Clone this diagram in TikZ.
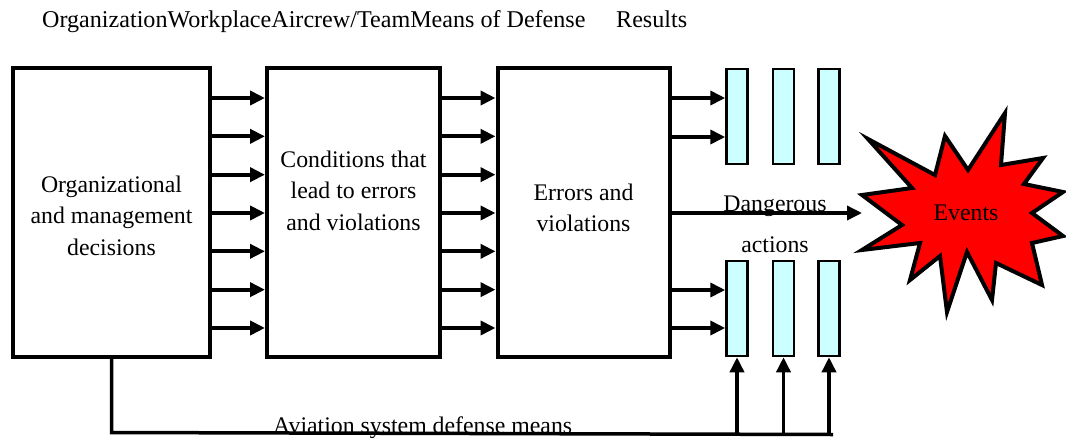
\documentclass[tikz,border=0pt]{standalone}
\usepackage{fontspec}
\setmainfont{Liberation Serif}
\usetikzlibrary{arrows.meta}
\definecolor{guardcyan}{HTML}{CCFFFF}
\begin{document}
\begin{tikzpicture}[x=1pt,y=-1pt,
  blk/.style={draw=black, line width=4pt, inner sep=0pt, minimum height=289pt},
  guard/.style={draw=black, fill=guardcyan, line width=2.5pt, inner sep=0pt,
                minimum width=21pt, minimum height=95pt},
  flow/.style={line width=4pt, -{Triangle[length=15pt,width=14pt]}},
  feed/.style={line width=3.5pt, -{Triangle[length=15pt,width=14pt]}},
  txt/.style={font=\fontsize{23.8}{31.5}\selectfont, align=center, inner sep=0pt},
  hdr/.style={font=\fontsize{24.1}{28}\selectfont, inner sep=0pt, anchor=base west}]
\useasboundingbox (0,0) rectangle (1066,437);

% column headings
\node[hdr] (h1) at (42,27.5) {OrganizationWorkplaceAircrew/TeamMeans of Defense};
\node[hdr] (h2) at (616,27.5) {Results};

% the three main blocks
\node[blk, minimum width=197pt] (org)  at (111.5,212.5) {};
\node[blk, minimum width=173pt] (cond) at (353.5,212.5) {};
\node[blk, minimum width=172pt] (err)  at (583.5,212.5) {};
\node[txt] (t1) at (111.5,215.5) {Organizational\\and management\\decisions};
\node[txt] (t2) at (353.5,190.4) {Conditions that\\lead to errors\\and violations};
\node[txt] (t3) at (583.5,208) {Errors and\\violations};

% flows between the blocks
\foreach \i in {0,...,6}{
  \pgfmathsetmacro\yy{98+38.33*\i}
  \draw[flow] (org.east |- 0,\yy) -- (cond.west |- 0,\yy);
  \draw[flow] (cond.east |- 0,\yy) -- (err.west |- 0,\yy);
}

% defense barriers
\node[guard] (g1) at (737,116.5) {};
\node[guard] (g2) at (783.5,116.5) {};
\node[guard] (g3) at (829,116.5) {};
\node[guard] (g4) at (737,308.5) {};
\node[guard] (g5) at (783.5,308.5) {};
\node[guard] (g6) at (829,308.5) {};

\foreach \yy in {98,137}{
  \draw[flow] (err.east |- 0,\yy) -- (g1.west |- 0,\yy);
}
\foreach \yy in {290,328}{
  \draw[flow] (err.east |- 0,\yy) -- (g4.west |- 0,\yy);
}

% the event burst
\draw[line width=4pt, fill=red, line join=miter]
  (868,139) -- (935,175) -- (945,136) -- (968,170) -- (1005,113) -- (1001,165)
  -- (1043,158) -- (1024,184) -- (1063,192) -- (1032,213) -- (1063,236)
  -- (1032,243) -- (1042,285) -- (996,263) -- (992,300) -- (967,252)
  -- (947,312) -- (940,256) -- (910,280) -- (920,243) -- (862,250)
  -- (902,225) -- (862,195) -- (912,188) -- cycle;
\node[txt] (events) at (966,213) {Events};
\coordinate (hit) at (862,213);
\draw[feed] (err.east |- hit) -- (hit);
\node[txt, font=\fontsize{23.8}{41}\selectfont] (danger) at (775,224.6) {Dangerous\\actions};

% aviation system defense loop
\coordinate (corner) at (org.south |- 0,432.5);
\coordinate (far) at (833,434.5);
\draw[line width=3.5pt] (org.south) -- (corner) -- (far);
\draw[feed] (g4.south |- 0,433.5) -- (g4.south);
\draw[feed] (g5.south |- 0,434) -- (g5.south);
\draw[feed] (g6.south |- 0,434.5) -- (g6.south);
\node[hdr, font=\fontsize{23.8}{28}\selectfont] (avi) at (273,433.5) {Aviation system defense means};
\end{tikzpicture}
\end{document}
